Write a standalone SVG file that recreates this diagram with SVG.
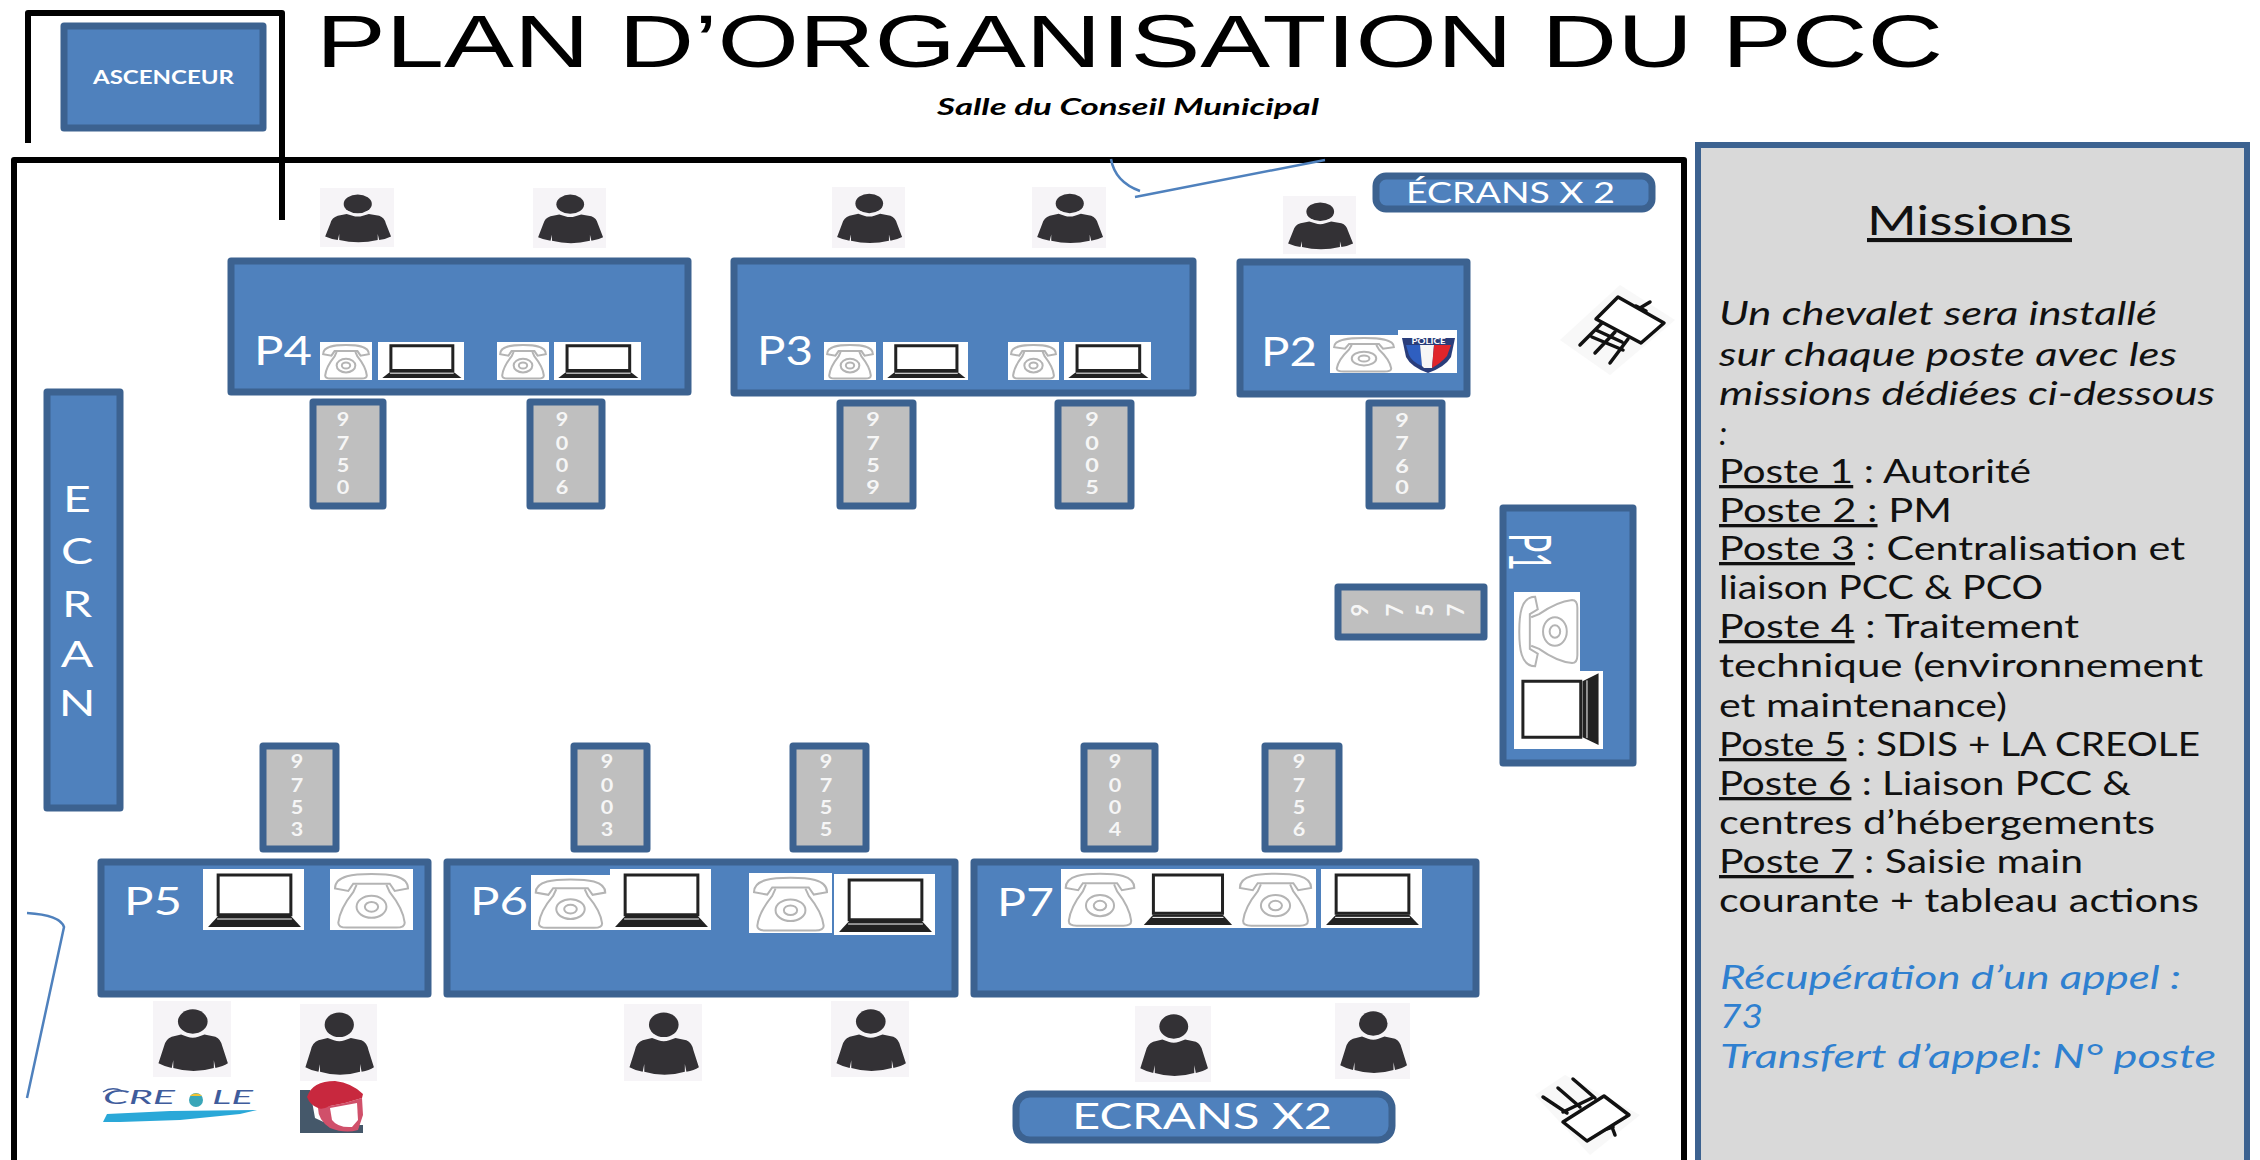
<svg xmlns="http://www.w3.org/2000/svg" width="2260" height="1160" viewBox="0 0 2260 1160">
<style>
text{font-family:"Lato","Open Sans","Liberation Sans",sans-serif}
.bl{fill:#4f81bd;stroke:#3c6290;stroke-width:7;stroke-linejoin:round}
.gr{fill:#bfbfbf;stroke:#3c6290;stroke-width:7;stroke-linejoin:round}
.wh{fill:#fff;text-anchor:start}
.dg{fill:#f6f6f6;font-size:18px;font-weight:700;text-anchor:middle}
.wall{fill:none;stroke:#000;stroke-width:6;stroke-linejoin:round}
.door{fill:none;stroke:#4f81bd;stroke-width:2.5}
.ln{fill:#111;font-size:33px}
.it{font-style:italic}
.bt{fill:#2f80d0;font-size:33px;font-style:italic}
.u{text-decoration:underline}
.e{fill:none;stroke:#111;stroke-width:3.5;stroke-linecap:round;stroke-linejoin:round}
</style>
<defs>
<symbol id="person" viewBox="0 0 100 100" preserveAspectRatio="none">
<rect width="100" height="100" fill="#f6f4f7"/>
<ellipse cx="51" cy="27" rx="19" ry="16" fill="#333135"/>
<path d="M36 44L44 47Q51 50 58 47L66 44L80 47Q87 50 89 60L96 82Q90 86 80 88L78 78L78 88Q52 96 26 88L26 78L24 88Q14 86 7 82L14 60Q16 50 24 47Z" fill="#333135"/>
</symbol>
<symbol id="phone" viewBox="0 0 100 100" preserveAspectRatio="none">
<rect width="100" height="100" fill="#fff"/>
<g fill="none" stroke="#b4b4b4" stroke-width="2">
<path vector-effect="non-scaling-stroke" d="M6 32C6 10 30 8 50 8C70 8 94 10 94 32L78 36L72 24L28 24L22 36Z"/>
<path vector-effect="non-scaling-stroke" d="M32 26L28 38Q12 65 10 88Q10 96 20 96L80 96Q90 96 90 88Q88 65 72 38L68 26"/>
<ellipse vector-effect="non-scaling-stroke" cx="50" cy="62" rx="18" ry="18"/>
<ellipse vector-effect="non-scaling-stroke" cx="50" cy="62" rx="8" ry="8"/>
</g>
</symbol>
<symbol id="laptop" viewBox="0 0 100 100" preserveAspectRatio="none">
<rect width="100" height="100" fill="#fff"/>
<rect x="15" y="10" width="72" height="65" fill="#fff" stroke="#222" stroke-width="3" vector-effect="non-scaling-stroke"/>
<path d="M15 77L87 77L97 95L5 95Z" fill="#222"/>
<path d="M14 82L88 82" stroke="#fff" stroke-width="1" vector-effect="non-scaling-stroke"/>
</symbol>
</defs>
<rect width="2260" height="1160" fill="#fff"/>

<g id="walls">
<path class="wall" d="M28 143L28 13L282 13L282 220"/>
<path class="wall" d="M14 1160L14 160L1684 160L1684 1160"/>
</g>
<g id="connectors">
<path class="door" d="M1111 159Q1115 182 1140 191M1135 197L1325 160"/>
<path class="door" stroke-width="3" d="M27 913Q60 915 64 927L27 1098"/>
</g>

<text id="title" x="316" y="67" font-size="74" fill="#000" style="font-family:'Liberation Sans',sans-serif" textLength="1627" lengthAdjust="spacingAndGlyphs">PLAN D’ORGANISATION DU PCC</text>
<text id="subtitle" x="937" y="115" font-size="23" font-weight="700" font-style="italic" fill="#000" textLength="382" lengthAdjust="spacingAndGlyphs">Salle du Conseil Municipal</text>

<g id="ascenseur">
<rect class="bl" x="64" y="26" width="199" height="102"/>
<text class="wh" x="93" y="84" font-size="18" font-weight="700" textLength="141" lengthAdjust="spacingAndGlyphs">ASCENCEUR</text>
</g>

<g id="ecran">
<rect class="bl" x="47" y="392" width="73" height="416"/>
<g fill="#fff" font-size="37" text-anchor="middle">
<text transform="translate(77,512) scale(1.3,1)">E</text>
<text transform="translate(77,564) scale(1.3,1)">C</text>
<text transform="translate(77,617) scale(1.3,1)">R</text>
<text transform="translate(77,667) scale(1.3,1)">A</text>
<text transform="translate(77,716) scale(1.3,1)">N</text>
</g>
</g>

<g id="ecrans-top">
<rect class="bl" x="1376" y="176" width="276" height="33" rx="10"/>
<text class="wh" x="1406" y="203" font-size="29" textLength="209" lengthAdjust="spacingAndGlyphs">ÉCRANS X 2</text>
</g>
<g id="ecrans-bottom">
<rect class="bl" x="1016" y="1094" width="376" height="46" rx="14"/>
<text class="wh" x="1072" y="1129" font-size="36" textLength="260" lengthAdjust="spacingAndGlyphs">ECRANS X2</text>
</g>

<g id="p4">
<rect class="bl" x="231" y="261" width="457" height="131"/>
<text class="wh" x="254" y="365" font-size="40" textLength="58" lengthAdjust="spacingAndGlyphs">P4</text>
<use href="#phone" x="320" y="342" width="52" height="38"/>
<use href="#laptop" x="378" y="342" width="86" height="38"/>
<use href="#phone" x="497" y="342" width="52" height="38"/>
<use href="#laptop" x="554" y="342" width="87" height="38"/>
</g>
<g id="p3">
<rect class="bl" x="734" y="261" width="459" height="132"/>
<text class="wh" x="757" y="365" font-size="40" textLength="56" lengthAdjust="spacingAndGlyphs">P3</text>
<use href="#phone" x="824" y="342" width="52" height="38"/>
<use href="#laptop" x="883" y="342" width="85" height="38"/>
<use href="#phone" x="1008" y="342" width="51" height="38"/>
<use href="#laptop" x="1064" y="342" width="87" height="38"/>
</g>
<g id="p2">
<rect class="bl" x="1240" y="262" width="227" height="132"/>
<text class="wh" x="1261" y="366" font-size="40" textLength="56" lengthAdjust="spacingAndGlyphs">P2</text>
<use href="#phone" x="1330" y="335" width="68" height="38"/>
<rect x="1398" y="330" width="59" height="43" fill="#fff"/>
<path d="M1402 338L1455 338L1451 357Q1445 367 1428 373Q1411 367 1406 357Z" fill="#2a3d7a"/>
<path d="M1406 345L1420 345L1422 366Q1412 362 1409 355Z" fill="#2f5fc0"/>
<path d="M1420 345L1434 345L1432 368L1424 368L1422 366Z" fill="#f6f6f6"/>
<path d="M1434 345L1451 345L1447 356Q1441 363 1432 368Z" fill="#e0252b"/>
<text x="1428.5" y="344" font-size="7" font-weight="700" fill="#fff" text-anchor="middle" textLength="34" lengthAdjust="spacingAndGlyphs">POLICE</text>
</g>
<g id="p1">
<rect class="bl" x="1503" y="508" width="130" height="255"/>
<text transform="translate(1509,533) rotate(90)" font-size="58" fill="#fff" textLength="38" lengthAdjust="spacingAndGlyphs">P1</text>
<g transform="translate(1514,671) rotate(-90)"><use href="#phone" width="79" height="66"/></g>
<g transform="translate(1514,749) rotate(-90)"><use href="#laptop" width="78" height="89"/></g>
</g>
<g id="p5">
<rect class="bl" x="101" y="862" width="327" height="132"/>
<text class="wh" x="124" y="915" font-size="38" textLength="58" lengthAdjust="spacingAndGlyphs">P5</text>
<use href="#laptop" x="203" y="869" width="101" height="61"/>
<use href="#phone" x="330" y="869" width="83" height="61"/>
</g>
<g id="p6">
<rect class="bl" x="447" y="862" width="508" height="132"/>
<text class="wh" x="470" y="915" font-size="38" textLength="58" lengthAdjust="spacingAndGlyphs">P6</text>
<use href="#phone" x="531" y="875" width="79" height="55"/>
<use href="#laptop" x="610" y="869" width="101" height="61"/>
<use href="#phone" x="749" y="873" width="83" height="60"/>
<use href="#laptop" x="834" y="874" width="101" height="61"/>
</g>
<g id="p7">
<rect class="bl" x="974" y="862" width="502" height="132"/>
<text class="wh" x="997" y="916" font-size="38" textLength="57" lengthAdjust="spacingAndGlyphs">P7</text>
<use href="#phone" x="1061" y="869" width="78" height="59"/>
<use href="#laptop" x="1139" y="869" width="96" height="59"/>
<use href="#phone" x="1235" y="869" width="81" height="59"/>
<use href="#laptop" x="1321" y="869" width="101" height="59"/>
</g>

<g id="t9750"><rect class="gr" x="313" y="402" width="70" height="104"/><text class="dg" transform="translate(343,0) scale(1.2,1)"><tspan x="0" y="426">9</tspan><tspan x="0" y="450">7</tspan><tspan x="0" y="472">5</tspan><tspan x="0" y="494">0</tspan></text></g>
<g id="t9006"><rect class="gr" x="530" y="402" width="72" height="104"/><text class="dg" transform="translate(562,0) scale(1.2,1)"><tspan x="0" y="426">9</tspan><tspan x="0" y="450">0</tspan><tspan x="0" y="472">0</tspan><tspan x="0" y="494">6</tspan></text></g>
<g id="t9759"><rect class="gr" x="840" y="403" width="73" height="103"/><text class="dg" transform="translate(873,0) scale(1.3,1)"><tspan x="0" y="426">9</tspan><tspan x="0" y="450">7</tspan><tspan x="0" y="472">5</tspan><tspan x="0" y="494">9</tspan></text></g>
<g id="t9005"><rect class="gr" x="1058" y="403" width="73" height="103"/><text class="dg" transform="translate(1092,0) scale(1.3,1)"><tspan x="0" y="426">9</tspan><tspan x="0" y="450">0</tspan><tspan x="0" y="472">0</tspan><tspan x="0" y="494">5</tspan></text></g>
<g id="t9760"><rect class="gr" x="1369" y="403" width="73" height="103"/><text class="dg" transform="translate(1402,0) scale(1.3,1)"><tspan x="0" y="427">9</tspan><tspan x="0" y="450">7</tspan><tspan x="0" y="473">6</tspan><tspan x="0" y="494">0</tspan></text></g>
<g id="t9757"><rect class="gr" x="1338" y="587" width="146" height="50"/>
<g fill="#f6f6f6" font-size="22" font-weight="700" text-anchor="middle"><text transform="translate(1368,610) rotate(-90)">9</text><text transform="translate(1403,610) rotate(-90)">7</text><text transform="translate(1433,610) rotate(-90)">5</text><text transform="translate(1464,610) rotate(-90)">7</text></g></g>
<g id="t9753"><rect class="gr" x="263" y="746" width="73" height="103"/><text class="dg" transform="translate(297,0) scale(1.2,1)"><tspan x="0" y="768">9</tspan><tspan x="0" y="792">7</tspan><tspan x="0" y="814">5</tspan><tspan x="0" y="836">3</tspan></text></g>
<g id="t9003"><rect class="gr" x="574" y="746" width="73" height="103"/><text class="dg" transform="translate(607,0) scale(1.2,1)"><tspan x="0" y="768">9</tspan><tspan x="0" y="792">0</tspan><tspan x="0" y="814">0</tspan><tspan x="0" y="836">3</tspan></text></g>
<g id="t9755"><rect class="gr" x="793" y="746" width="73" height="103"/><text class="dg" transform="translate(826,0) scale(1.2,1)"><tspan x="0" y="768">9</tspan><tspan x="0" y="792">7</tspan><tspan x="0" y="814">5</tspan><tspan x="0" y="836">5</tspan></text></g>
<g id="t9004"><rect class="gr" x="1084" y="746" width="71" height="103"/><text class="dg" transform="translate(1115,0) scale(1.2,1)"><tspan x="0" y="768">9</tspan><tspan x="0" y="792">0</tspan><tspan x="0" y="814">0</tspan><tspan x="0" y="836">4</tspan></text></g>
<g id="t9756"><rect class="gr" x="1265" y="746" width="74" height="103"/><text class="dg" transform="translate(1299,0) scale(1.2,1)"><tspan x="0" y="768">9</tspan><tspan x="0" y="792">7</tspan><tspan x="0" y="814">5</tspan><tspan x="0" y="836">6</tspan></text></g>

<g id="persons">
<use href="#person" x="320" y="188" width="74" height="59"/>
<use href="#person" x="533" y="188" width="73" height="60"/>
<use href="#person" x="832" y="187" width="73" height="61"/>
<use href="#person" x="1032" y="187" width="74" height="61"/>
<use href="#person" x="1283" y="196" width="73" height="58"/>
<use href="#person" x="153" y="1001" width="78" height="76"/>
<use href="#person" x="300" y="1004" width="77" height="77"/>
<use href="#person" x="624" y="1004" width="78" height="77"/>
<use href="#person" x="831" y="1001" width="78" height="76"/>
<use href="#person" x="1135" y="1006" width="76" height="76"/>
<use href="#person" x="1335" y="1003" width="75" height="76"/>
</g>

<g id="easel-top">
<path d="M1620 285L1675 320L1610 375L1560 340Z" fill="#f8f8f8"/>
<path class="e" d="M1602 323L1580 345M1615 332L1595 353M1628 339L1610 363M1592 337L1623 350M1596 330L1622 342M1636 306L1646 311M1640 308L1650 302"/>
<path class="e" style="fill:#fff" d="M1618 297L1664 323L1641 343L1596 319Z"/>
</g>
<g id="easel-bottom">
<path d="M1565 1075L1640 1115L1590 1155L1535 1095Z" fill="#f8f8f8"/>
<path class="e" d="M1573 1079L1595 1098M1558 1088L1580 1107M1543 1097L1567 1113M1563 1112L1592 1098M1570 1118L1598 1103M1603 1130L1613 1127M1612 1127L1615 1135"/>
<path class="e" style="fill:#fff" d="M1604 1096L1629 1115L1587 1141L1563 1122Z"/>
</g>

<g id="logo-creole">
<path d="M103 1122L107 1114L170 1111L257 1110L240 1114L180 1120L120 1122Z" fill="#2aa8d8"/>
<path d="M103 1092Q112 1086 122 1091" fill="none" stroke="#3f5c9c" stroke-width="1.5"/>
<text x="103" y="1104" font-size="19" font-style="italic" fill="#3f5c9c" textLength="72" lengthAdjust="spacingAndGlyphs">CRE</text>
<circle cx="196" cy="1100" r="7" fill="#39a6b8"/><path d="M190 1096A7 5 0 0 1 202 1096Z" fill="#f1c232"/>
<text x="212" y="1104" font-size="19" font-style="italic" fill="#3f5c9c" textLength="41" lengthAdjust="spacingAndGlyphs">LE</text>
</g>
<g id="logo-sdis">
<path d="M300 1090L310 1090L315 1118L330 1125L363 1125L363 1133L300 1133Z" fill="#45586a"/>
<path d="M318 1108L330 1106L345 1103L362 1098L363 1115L358 1130Q345 1134 330 1128Q318 1120 318 1108Z" fill="#d0506a"/>
<path d="M307 1097Q312 1081 335 1081Q352 1083 363 1094L362 1098L345 1103L330 1106Q322 1110 318 1108Q310 1105 307 1097Z" fill="#c8283e"/>
<path d="M330 1108L357 1103L358 1120L352 1127Q338 1128 332 1120Z" fill="#fff"/>
</g>

<g id="missions">
<rect x="1698" y="145" width="549" height="1030" fill="#d9d9d9" stroke="#3c6290" stroke-width="6"/>
<text class="u" x="1867" y="235" font-size="41" fill="#111" textLength="205" lengthAdjust="spacingAndGlyphs">Missions</text>
<text class="ln it" x="1719" y="325" textLength="438" lengthAdjust="spacingAndGlyphs">Un chevalet sera installé</text>
<text class="ln it" x="1719" y="366" textLength="458" lengthAdjust="spacingAndGlyphs">sur chaque poste avec les</text>
<text class="ln it" x="1719" y="405" textLength="496" lengthAdjust="spacingAndGlyphs">missions dédiées ci-dessous</text>
<text class="ln it" x="1719" y="445">:</text>
<text class="ln" x="1719" y="483" textLength="312" lengthAdjust="spacingAndGlyphs"><tspan class="u">Poste 1</tspan> : Autorité</text>
<text class="ln" x="1719" y="522" textLength="233" lengthAdjust="spacingAndGlyphs"><tspan class="u">Poste 2 :</tspan>  PM</text>
<text class="ln" x="1719" y="560" textLength="466" lengthAdjust="spacingAndGlyphs"><tspan class="u">Poste 3</tspan> : Centralisation  et</text>
<text class="ln" x="1719" y="599" textLength="324" lengthAdjust="spacingAndGlyphs">liaison PCC &amp; PCO</text>
<text class="ln" x="1719" y="638" textLength="360" lengthAdjust="spacingAndGlyphs"><tspan class="u">Poste 4</tspan> : Traitement</text>
<text class="ln" x="1719" y="677" textLength="484" lengthAdjust="spacingAndGlyphs">technique (environnement</text>
<text class="ln" x="1719" y="717" textLength="288" lengthAdjust="spacingAndGlyphs">et maintenance)</text>
<text class="ln" x="1719" y="756" textLength="481" lengthAdjust="spacingAndGlyphs"><tspan class="u">Poste 5</tspan> : SDIS + LA CREOLE</text>
<text class="ln" x="1719" y="795" textLength="412" lengthAdjust="spacingAndGlyphs"><tspan class="u">Poste 6</tspan> : Liaison PCC &amp;</text>
<text class="ln" x="1719" y="834" textLength="436" lengthAdjust="spacingAndGlyphs">centres d’hébergements</text>
<text class="ln" x="1719" y="873" textLength="364" lengthAdjust="spacingAndGlyphs"><tspan class="u">Poste 7</tspan> : Saisie main</text>
<text class="ln" x="1719" y="912" textLength="480" lengthAdjust="spacingAndGlyphs">courante + tableau actions</text>
<text class="bt" x="1720" y="989" textLength="461" lengthAdjust="spacingAndGlyphs">Récupération d’un appel :</text>
<text class="bt" x="1720" y="1028" textLength="43" lengthAdjust="spacingAndGlyphs">73</text>
<text class="bt" x="1720" y="1068" textLength="496" lengthAdjust="spacingAndGlyphs">Transfert  d’appel: N° poste</text>
</g>
</svg>
